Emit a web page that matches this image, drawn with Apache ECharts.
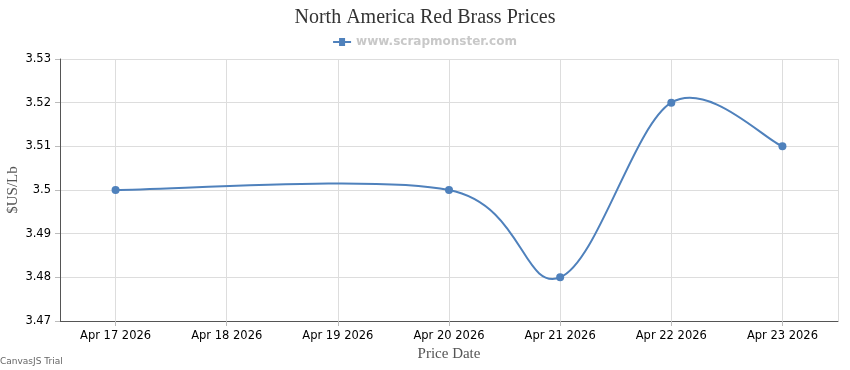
<!DOCTYPE html>
<html><head><meta charset="utf-8">
<script src="https://cdn.jsdelivr.net/npm/echarts@6/dist/echarts.min.js"></script>
<style>html,body{margin:0;padding:0;background:#fff}#c{width:850px;height:370px}</style>
</head><body><div id="c"></div>
<script>
const dates = ['2026-04-17','2026-04-20','2026-04-21','2026-04-22','2026-04-23'];
const prices = [3.50, 3.50, 3.48, 3.52, 3.51];
const yTicks = [3.47, 3.48, 3.49, 3.50, 3.51, 3.52, 3.53];
const mon = ['Jan','Feb','Mar','Apr','May','Jun','Jul','Aug','Sep','Oct','Nov','Dec'];
const t = s => { const [y,m,d] = s.split('-').map(Number); return Date.UTC(y, m-1, d); };
const DAY = 86400000;
const COLOR = '#4F81BC';
const pts = dates.map((d, i) => [t(d), prices[i]]);
const chart = echarts.init(document.getElementById('c'));
chart.setOption({
  animation: false,
  color: [COLOR],
  title: { text: 'North America Red Brass Prices', left: 'center', top: 3,
    textStyle: { fontFamily: 'Liberation Serif', fontWeight: 'normal', fontSize: 20, color: '#333' } },
  legend: { top: 31, left: 'center', itemWidth: 18, itemHeight: 8,
    data: [{ name: 'www.scrapmonster.com', icon: 'path://M0,3L6,3L6,0L12,0L12,3L18,3L18,5L12,5L12,8L6,8L6,5L0,5Z', itemStyle: { color: COLOR } }],
    textStyle: { fontFamily: 'DejaVu Sans', fontWeight: 'bold', fontSize: 12, color: '#c8c8c8' } },
  grid: { left: 60, right: 12, top: 59, bottom: 49, containLabel: false, outerBoundsMode: 'none' },
  xAxis: { type: 'time', min: t(dates[0]) - DAY/2, max: t(dates[dates.length-1]) + DAY/2,
    interval: DAY, minInterval: DAY, maxInterval: DAY,
    name: 'Price Date', nameLocation: 'middle', nameGap: 26, nameMoveOverlap: false,
    nameTextStyle: { fontFamily: 'Liberation Serif', fontSize: 15, color: '#555' },
    axisLine: { lineStyle: { color: '#555', width: 1 } },
    axisTick: { show: true, length: 5, lineStyle: { color: '#bbb' } },
    splitLine: { show: true, lineStyle: { color: '#ddd' } },
    axisLabel: { fontFamily: 'DejaVu Sans', fontSize: 11.5, color: '#000', margin: 9,
      formatter: v => { const d = new Date(v); return mon[d.getUTCMonth()] + ' ' + d.getUTCDate() + ' ' + d.getUTCFullYear(); } } },
  yAxis: { type: 'value', min: yTicks[0], max: yTicks[yTicks.length-1], interval: 0.01,
    name: '$US/Lb', nameLocation: 'middle', nameGap: 39, nameMoveOverlap: false,
    nameTextStyle: { fontFamily: 'Liberation Serif', fontSize: 15, color: '#555' },
    axisLine: { show: true, lineStyle: { color: '#555', width: 1 } },
    axisTick: { show: true, length: 5, lineStyle: { color: '#bbb' } },
    splitLine: { lineStyle: { color: '#ddd' } },
    axisLabel: { fontFamily: 'DejaVu Sans', fontSize: 11.5, color: '#000', margin: 9,
      formatter: v => String(parseFloat(v.toFixed(2))) } },
  series: [
    { name: 'www.scrapmonster.com', type: 'custom', z: 2, silent: true,
      itemStyle: { color: COLOR },
      data: pts, encode: { x: 0, y: 1 },
      renderItem: (params, api) => {
        const i = params.dataIndex, n = pts.length;
        if (i >= n - 1) return null;
        const c = k => api.coord(pts[Math.max(0, Math.min(n - 1, k))]);
        const p0 = c(i - 1), p1 = c(i), p2 = c(i + 1), p3 = c(i + 2);
        return { type: 'bezierCurve',
          shape: { x1: p1[0], y1: p1[1], x2: p2[0], y2: p2[1],
            cpx1: p1[0] + (p2[0] - p0[0]) / 6, cpy1: p1[1] + (p2[1] - p0[1]) / 6,
            cpx2: p2[0] - (p3[0] - p1[0]) / 6, cpy2: p2[1] - (p3[1] - p1[1]) / 6 },
          style: { stroke: COLOR, lineWidth: 2, fill: null } };
      } },
    { name: 'www.scrapmonster.com', type: 'line', z: 3,
      data: pts, symbol: 'circle', symbolSize: 8, showSymbol: true,
      itemStyle: { color: COLOR }, lineStyle: { color: COLOR, width: 0, opacity: 0 } }
  ],
  graphic: [{ type: 'text', left: 0, top: 357,
    style: { text: 'CanvasJS Trial', fontFamily: 'DejaVu Sans', fontSize: 9, fill: '#666' } }]
});
</script></body></html>
